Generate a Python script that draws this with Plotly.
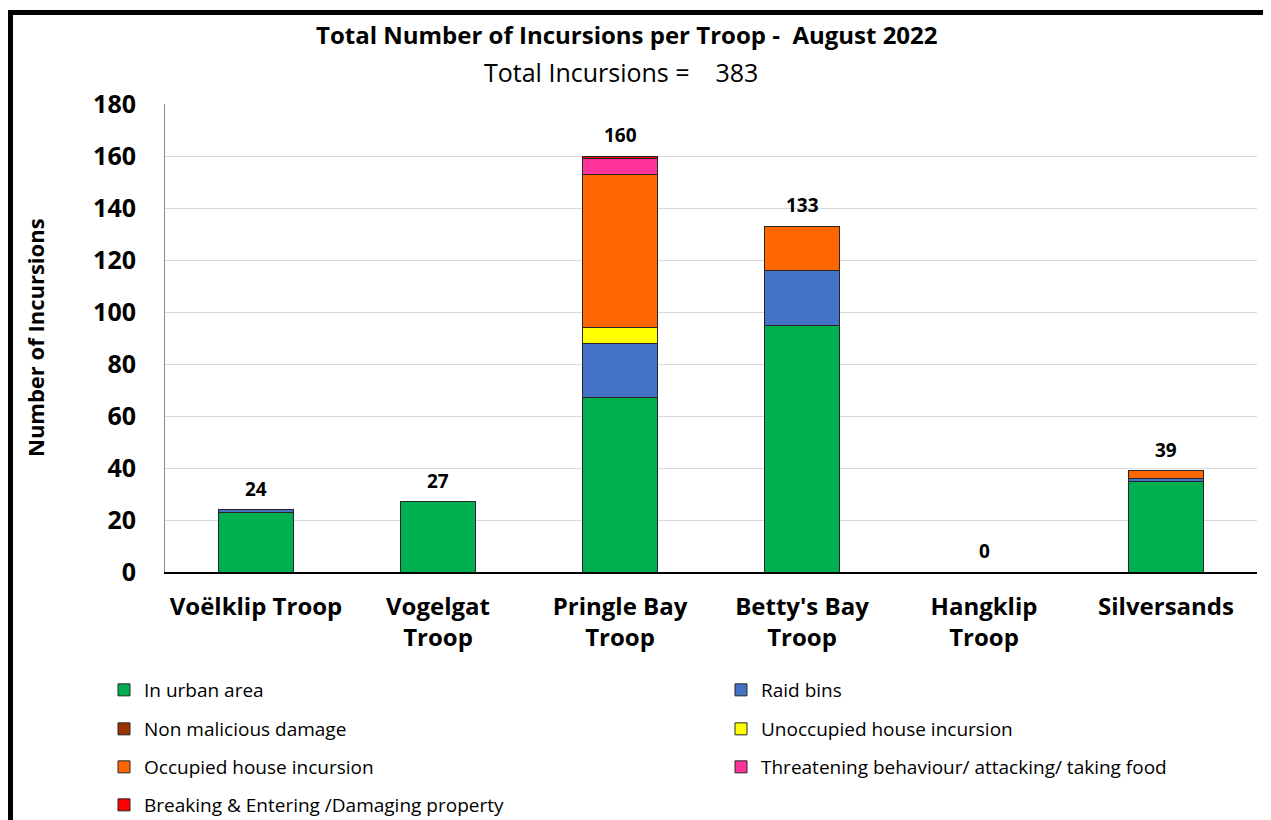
import plotly.graph_objects as go

troops = ["Voëlklip Troop", "Vogelgat<br>Troop", "Pringle Bay<br>Troop", "Betty's Bay<br>Troop", "Hangklip<br>Troop", "Silversands"]

in_urban_area = [23, 27, 67, 95, 0, 35]
raid_bins = [1, 0, 21, 21, 0, 1]
non_malicious_damage = [0, 0, 0, 0, 0, 0]
unoccupied_house = [0, 0, 6, 0, 0, 0]
occupied_house = [0, 0, 59, 17, 0, 3]
threatening = [0, 0, 6, 0, 0, 0]
breaking_entering = [0, 0, 1, 0, 0, 0]

series_names = ["In urban area", "Raid bins", "Non malicious damage", "Unoccupied house incursion",
                "Occupied house incursion", "Threatening behaviour/ attacking/ taking food",
                "Breaking & Entering /Damaging property"]
series_values = [in_urban_area, raid_bins, non_malicious_damage, unoccupied_house,
                 occupied_house, threatening, breaking_entering]
series_colors = ["#00B050", "#4472C4", "#993300", "#FFFF00", "#FF6600", "#FF3399", "#FF0000"]

totals = [sum(v) for v in zip(*series_values)]
grand_total = sum(totals)

FONT = "Open Sans"
OFF = 8  # page body margin
W, H = 1271 - OFF, 820 - OFF
ML = 165 - OFF
MT = 104 - OFF
MR = W - (1257 - OFF)
MB = H - (572 - OFF)
PW = W - ML - MR
PH = H - MT - MB

def px_x(p):
    # page pixel -> paper
    return (p - OFF - ML) / PW

def px_y(p):
    return (H - MB - (p - OFF)) / PH

leg_cols = [104, 721]
leg_rows = [690, 729, 767, 805]

fig = go.Figure()
layout_legends = {}
for i, (name, vals, color) in enumerate(zip(series_names, series_values, series_colors)):
    key = "legend" if i == 0 else f"legend{i + 1}"
    fig.add_trace(go.Bar(
        x=troops, y=vals, name=name,
        marker=dict(color=color, line=dict(color="#262626", width=1)),
        legend=key,
    ))
    layout_legends[key] = dict(
        orientation="h", xanchor="left", yanchor="middle",
        x=px_x(leg_cols[i % 2]), y=px_y(leg_rows[i // 2]),
        font=dict(family=FONT, size=19, color="#000"),
        bgcolor="rgba(0,0,0,0)",
    )

for t, tot in zip(troops, totals):
    fig.add_annotation(x=t, y=tot, text=f"<b>{tot}</b>", showarrow=False,
                       yanchor="bottom", yshift=6,
                       font=dict(family=FONT, size=19, color="#000"))

fig.add_annotation(xref="paper", yref="paper", x=px_x(627), y=px_y(34),
                   text="<b>Total Number of Incursions per Troop -  August 2022</b>",
                   showarrow=False, xanchor="center", yanchor="middle",
                   font=dict(family=FONT, size=24, color="#000"))
fig.add_annotation(xref="paper", yref="paper", x=px_x(621), y=px_y(72),
                   text=f"Total Incursions =    {grand_total}",
                   showarrow=False, xanchor="center", yanchor="middle",
                   font=dict(family=FONT, size=25, color="#000"))
fig.add_annotation(xref="paper", yref="paper", x=px_x(35), y=px_y(338),
                   text="<b>Number of Incursions</b>", textangle=-90,
                   showarrow=False, xanchor="center", yanchor="middle",
                   font=dict(family=FONT, size=22, color="#000"))

fig.add_shape(type="rect", xref="paper", yref="paper",
              x0=px_x(10.5), x1=px_x(1300), y0=px_y(900), y1=px_y(12.5),
              line=dict(color="#000", width=5), fillcolor="rgba(0,0,0,0)")

fig.update_layout(
    width=W, height=H,
    margin=dict(l=ML, r=MR, t=MT, b=MB, autoexpand=False),
    paper_bgcolor="#fff", plot_bgcolor="#fff",
    barmode="stack", bargap=0.59,
    showlegend=True,
    **layout_legends,
    xaxis=dict(showline=True, linecolor="#000", linewidth=1.5,
               tickfont=dict(family=FONT, size=24, color="#000"),
               ticklabelstandoff=12, showgrid=False, ticks=""),
    yaxis=dict(range=[0, 180], dtick=20, showline=True, linecolor="#8c8c8c", linewidth=1,
               gridcolor="#d9d9d9", gridwidth=1, zeroline=False,
               tickfont=dict(family=FONT, size=25, color="#000"),
               tickprefix="<b>", ticksuffix="</b>", ticklabelstandoff=23, ticks=""),
)
fig.update_xaxes(tickvals=troops, ticktext=[f"<b>{t}</b>" for t in troops])

fig.write_html("out.html")
